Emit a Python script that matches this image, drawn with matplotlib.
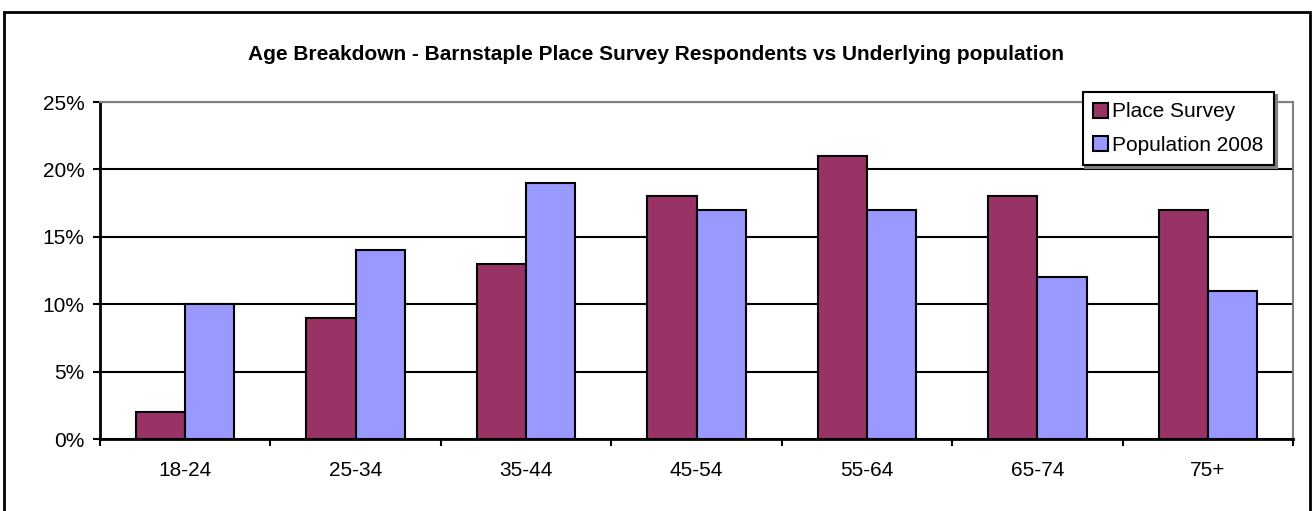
import numpy as np
import matplotlib.pyplot as plt
from matplotlib.patches import Rectangle
from matplotlib.ticker import PercentFormatter

plt.rcParams['font.family'] = ['Liberation Sans', 'DejaVu Sans']

age_groups = ['18-24', '25-34', '35-44', '45-54', '55-64', '65-74', '75+']
place_survey = [2, 9, 13, 18, 21, 18, 17]
population_2008 = [10, 14, 19, 17, 17, 12, 11]

fig = plt.figure(figsize=(13.12, 5.11), dpi=100)
ax = fig.add_axes([100 / 1312, 1 - 439 / 511, 1193 / 1312, 337 / 511])

# outer chart border
fig.patches.append(Rectangle((4 / 1312, -0.05), 1306 / 1312, 1 - 12 / 511 + 0.05,
                             transform=fig.transFigure, fill=False,
                             edgecolor='black', linewidth=2))

x = np.arange(len(age_groups))
w = 0.289
ax.bar(x - w / 2, place_survey, w, color='#993366', edgecolor='black',
       linewidth=1.5, label='Place Survey', zorder=3)
ax.bar(x + w / 2, population_2008, w, color='#9999FF', edgecolor='black',
       linewidth=1.5, label='Population 2008', zorder=3)

ax.set_xlim(-0.5, len(age_groups) - 0.5)
ax.set_ylim(0, 25)
ax.set_yticks(range(0, 26, 5))
ax.yaxis.set_major_formatter(PercentFormatter(decimals=0))
ax.set_xticks(np.arange(-0.5, len(age_groups), 1), minor=False)
ax.set_xticklabels([])
ax.set_xticks(x, minor=True)
ax.set_xticklabels(age_groups, minor=True)
ax.tick_params(axis='x', which='minor', length=0, labelsize=15, pad=16)
ax.tick_params(axis='x', which='major', length=5, width=1.5, direction='out')
ax.tick_params(axis='y', length=5, width=1.5, labelsize=15, pad=6)
ax.yaxis.grid(True, color='black', linewidth=1.5, zorder=0)
ax.set_axisbelow(True)

ax.spines['left'].set_linewidth(2)
ax.spines['bottom'].set_linewidth(2)
ax.spines['top'].set_color('#808080')
ax.spines['right'].set_color('#808080')
ax.spines['top'].set_linewidth(1.5)
ax.spines['right'].set_linewidth(1.5)

fig.text(0.5, 1 - 54 / 511, 'Age Breakdown - Barnstaple Place Survey Respondents vs Underlying population',
         ha='center', va='center', fontsize=15, fontweight='bold')

leg = ax.legend(loc='upper right', bbox_to_anchor=(1174 / 1193, 1 + 10 / 337),
                fontsize=15, frameon=True, fancybox=False,
                shadow={'color': '#808080', 'alpha': 1, 'ox': 2, 'oy': -2},
                handlelength=0.72, handleheight=0.72, handletextpad=0.2,
                borderpad=0.5, labelspacing=0.68, borderaxespad=0)
leg.get_frame().set_edgecolor('black')
leg.get_frame().set_linewidth(1.5)

fig.savefig('out.png', dpi=100)
